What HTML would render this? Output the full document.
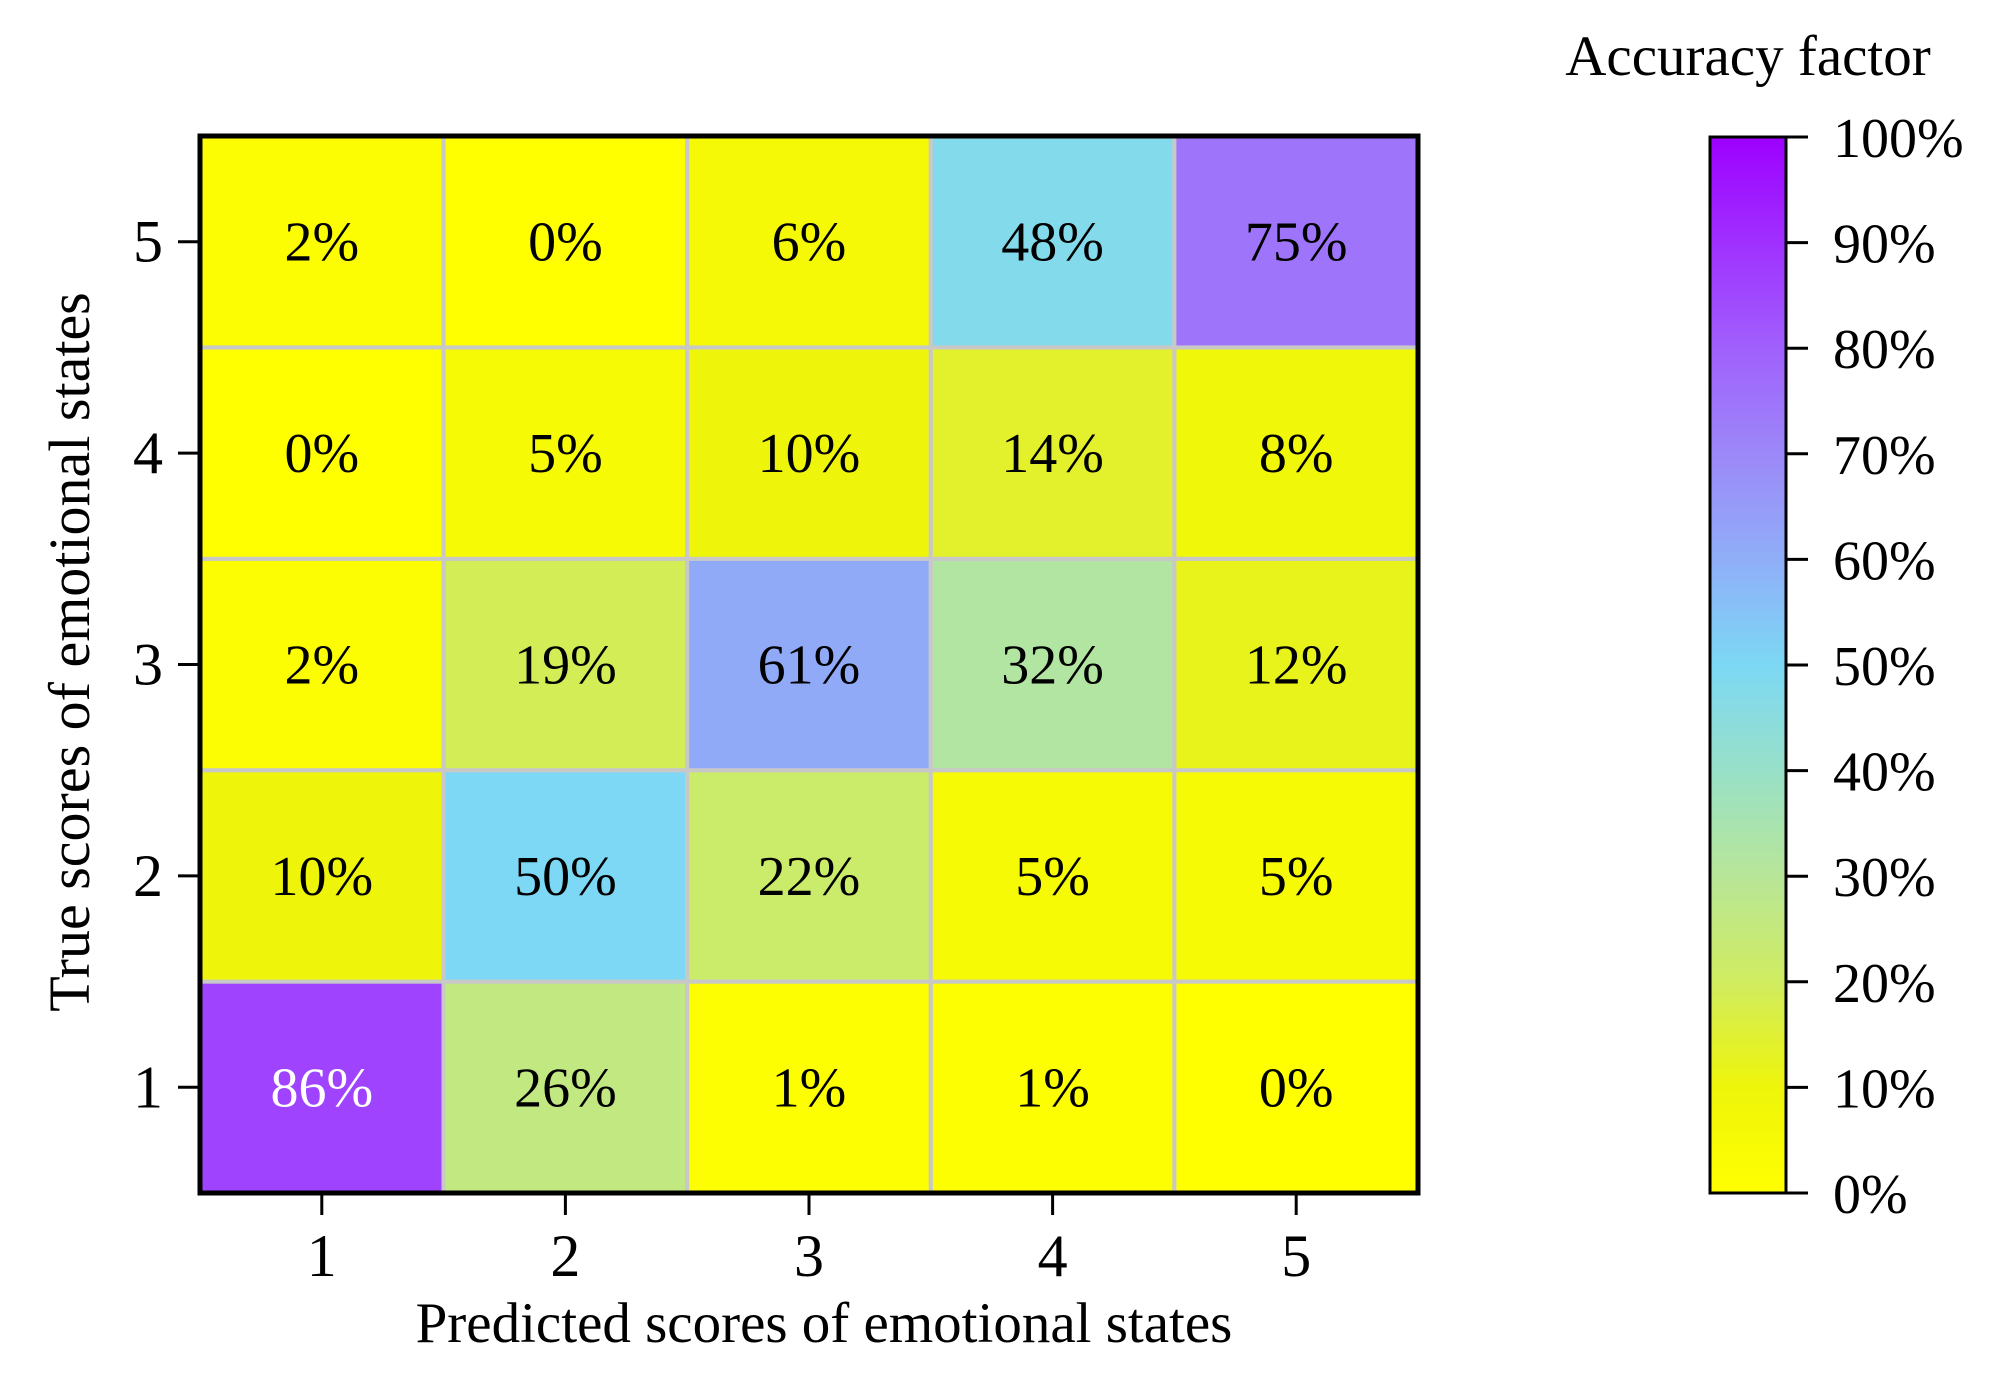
<!DOCTYPE html>
<html><head><meta charset="utf-8"><style>
html,body{margin:0;padding:0;background:#fff}
svg{display:block;font-family:"Liberation Serif",serif}
</style></head><body>
<svg id="chart" width="2003" height="1387" viewBox="0 0 2003 1387" xmlns="http://www.w3.org/2000/svg">
<defs>
<linearGradient id="cg" x1="0" y1="1" x2="0" y2="0">
<stop offset="0" stop-color="#ffff00"/><stop offset="0.1" stop-color="#eef50a"/><stop offset="0.2" stop-color="#d0ec60"/><stop offset="0.3" stop-color="#b8e698"/><stop offset="0.4" stop-color="#98e0c8"/><stop offset="0.5" stop-color="#7cd8f4"/><stop offset="0.6" stop-color="#90aef8"/><stop offset="0.7" stop-color="#9c88f8"/><stop offset="0.8" stop-color="#a060fc"/><stop offset="0.9" stop-color="#a030ff"/><stop offset="1" stop-color="#9d00ff"/>
</linearGradient>
</defs>
<g id="cells"></g>
<g id="axes"></g>
</svg>
<script>
const predictedCategories = ["1","2","3","4","5"];
const trueCategories = ["1","2","3","4","5"];
// rows: true score 1..5, columns: predicted 1..5
const row1 = [86, 26, 1, 1, 0];
const row2 = [10, 50, 22, 5, 5];
const row3 = [2, 19, 61, 32, 12];
const row4 = [0, 5, 10, 14, 8];
const row5 = [2, 0, 6, 48, 75];
const colorbarTicks = [0,10,20,30,40,50,60,70,80,90,100];

const matrix = [row1,row2,row3,row4,row5];
const NS="http://www.w3.org/2000/svg";
const L=200,R=1418,T=136,B=1193;
const nx=predictedCategories.length, ny=trueCategories.length;
const cw=(R-L)/nx, ch=(B-T)/ny;
function xPos(i){return L+cw*(i+0.5);}
function yPos(j){return B-ch*(j+0.5);}
const stops=[[0,[255,255,0]],[10,[238,245,10]],[20,[208,236,96]],[30,[184,230,152]],[40,[152,224,200]],[50,[124,216,244]],[60,[144,174,248]],[70,[156,136,248]],[80,[160,96,252]],[90,[160,48,255]],[100,[157,0,255]]];
function color(v){
  for(let k=1;k<stops.length;k++){
    if(v<=stops[k][0]){const a=stops[k-1],b=stops[k];const t=(v-a[0])/(b[0]-a[0]);
      const c=a[1].map((x,i)=>Math.round(x+(b[1][i]-x)*t));return `rgb(${c.join(',')})`;}
  }
  return "rgb(157,0,255)";
}
function mk(tag,attrs,parent){const e=document.createElementNS(NS,tag);for(const k in attrs)e.setAttribute(k,attrs[k]);parent.appendChild(e);return e;}
const cells=document.getElementById('cells'), axes=document.getElementById('axes');
matrix.forEach((row,j)=>{
  row.forEach((v,i)=>{
    const r=mk('rect',{x:L+cw*i,y:B-ch*(j+1),width:cw,height:ch,fill:color(v),stroke:'#c8c8c8','stroke-width':4},cells);
    
    
    const t=mk('text',{x:xPos(i),y:yPos(j)+19,'text-anchor':'middle','font-size':56,fill:v>80?'#fff':'#000'},cells);
    t.textContent=v+'%';
    
    
  });
});
const frame=mk('rect',{x:L,y:T,width:R-L,height:B-T,fill:'none',stroke:'#000','stroke-width':5},axes);


predictedCategories.forEach((c,i)=>{
  mk('line',{x1:xPos(i),x2:xPos(i),y1:B,y2:B+22,stroke:'#000','stroke-width':3},axes);
  const t=mk('text',{x:xPos(i),y:1276,'text-anchor':'middle','font-size':60},axes);
  t.textContent=c;
  
  
});
trueCategories.forEach((c,j)=>{
  mk('line',{x1:L-22,x2:L,y1:yPos(j),y2:yPos(j),stroke:'#000','stroke-width':3},axes);
  const t=mk('text',{x:163,y:yPos(j)+20,'text-anchor':'end','font-size':60},axes);
  t.textContent=c;
  
  
});
const xt=mk('text',{x:824,y:1342,'text-anchor':'middle','font-size':57},axes);
xt.textContent='Predicted scores of emotional states';


const yt=mk('text',{x:0,y:0,'text-anchor':'middle','font-size':58,transform:'translate(89,652) rotate(-90)'},axes);
yt.textContent='True scores of emotional states';


// colorbar
const CL=1710,CR=1786,CT=137,CB=1193;
const cb=mk('rect',{x:CL,y:CT,width:CR-CL,height:CB-CT,fill:'url(#cg)',stroke:'#000','stroke-width':3},axes);


function cy(v){return CB-(CB-CT)*v/100;}
colorbarTicks.forEach(v=>{
  mk('line',{x1:CR,x2:1808,y1:cy(v),y2:cy(v),stroke:'#000','stroke-width':3},axes);
  const t=mk('text',{x:1833,y:cy(v)+20,'font-size':56},axes);
  t.textContent=v+'%';
  
  
});
const ct=mk('text',{x:1748,y:75,'text-anchor':'middle','font-size':57},axes);
ct.textContent='Accuracy factor';


</script>
</body></html>
